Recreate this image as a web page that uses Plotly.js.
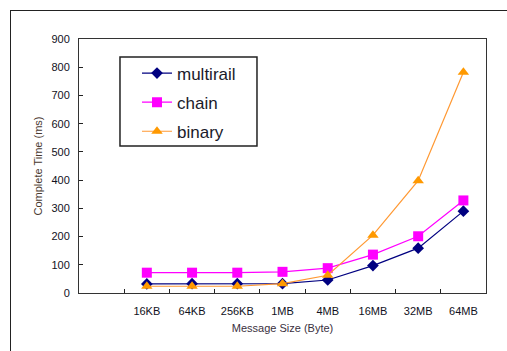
<!DOCTYPE html>
<html>
<head>
<meta charset="utf-8">
<script src="https://cdn.plot.ly/plotly-3.0.1.min.js"></script>
<style>
  html, body { margin: 0; padding: 0; background: #fff; }
  #wrap { position: relative; width: 507px; height: 351px; overflow: hidden; }
  #chart { position: absolute; left: 0; top: 0; width: 507px; height: 351px; }
  #frame { position: absolute; left: 10px; top: 10px; width: 600px; height: 400px;
           border-left: 1px solid #222; border-top: 1px solid #222; pointer-events: none; }
</style>
</head>
<body>
<div id="wrap">
  <div id="chart"></div>
  <div id="frame"></div>
</div>
<script>
const categories = ["", "16KB", "64KB", "256KB", "1MB", "4MB", "16MB", "32MB", "64MB"];
const sizes = ["16KB", "64KB", "256KB", "1MB", "4MB", "16MB", "32MB", "64MB"];
const multirail = [32, 33, 33, 33, 46, 97, 159, 290];
const chain = [72, 72, 72, 75, 88, 136, 201, 328];
const binary = [24, 24, 24, 33, 63, 205, 398, 782];
const yTicks = [0, 100, 200, 300, 400, 500, 600, 700, 800, 900];

const textColor = "#111122";
const traces = [
  { x: sizes, y: multirail, name: "multirail", type: "scatter", mode: "lines+markers",
    legendgroup: "a",
    line: { color: "#000080", width: 1.2 },
    marker: { symbol: "diamond", size: 9, color: "#000080" } },
  { x: sizes, y: chain, name: "chain", type: "scatter", mode: "lines+markers",
    legendgroup: "b",
    line: { color: "#FF00FF", width: 1.2 },
    marker: { symbol: "square", size: 10, color: "#FF00FF" } },
  { x: sizes, y: binary, name: "binary", type: "scatter", mode: "lines+markers",
    legendgroup: "c",
    line: { color: "#FF9933", width: 1.2 },
    marker: { symbol: "triangle-up", size: 10, color: "#FF9900" } }
];

const layout = {
  width: 507, height: 351,
  margin: { l: 79, r: 21, t: 39, b: 58 },
  paper_bgcolor: "#fff", plot_bgcolor: "#fff",
  font: { family: "Liberation Sans, Arial, sans-serif", size: 11, color: textColor },
  showlegend: true,
  legend: {
    x: 0.1425, y: 0.935, xanchor: "left", yanchor: "top",
    bgcolor: "rgba(0,0,0,0)", borderwidth: 0,
    font: { size: 17, color: "#1a1a2a" },
    tracegroupgap: 4
  },
  shapes: [
    { type: "rect", xref: "paper", yref: "paper",
      x0: 0.1007, x1: 0.4373, y0: 0.5787, y1: 0.929,
      line: { color: "#222", width: 1.5 }, fillcolor: "rgba(0,0,0,0)", layer: "above" }
  ],
  xaxis: {
    type: "category",
    categoryorder: "array", categoryarray: categories,
    tickmode: "array", tickvals: categories, ticktext: categories,
    range: [-0.5, 8.5],
    tickson: "boundaries",
    ticks: "inside", ticklen: 4, tickcolor: "#222",
    ticklabelstandoff: 8,
    showgrid: false, zeroline: false,
    showline: true, linecolor: "#333", linewidth: 1, mirror: true,
    tickfont: { size: 11, color: textColor },
    title: { text: "Message Size (Byte)", font: { size: 11, color: "#3a3040" }, standoff: 8 }
  },
  yaxis: {
    range: [0, 900],
    tickmode: "array", tickvals: yTicks,
    ticks: "inside", ticklen: 4, tickcolor: "#222",
    ticklabelstandoff: 6,
    showgrid: false, zeroline: false,
    showline: true, linecolor: "#333", linewidth: 1, mirror: true,
    tickfont: { size: 11, color: textColor },
    title: { text: "Complete Time (ms)", font: { size: 11, color: "#4a3a30" }, standoff: 6 }
  }
};

Plotly.newPlot("chart", traces, layout, { displayModeBar: false, staticPlot: true });
</script>
</body>
</html>
